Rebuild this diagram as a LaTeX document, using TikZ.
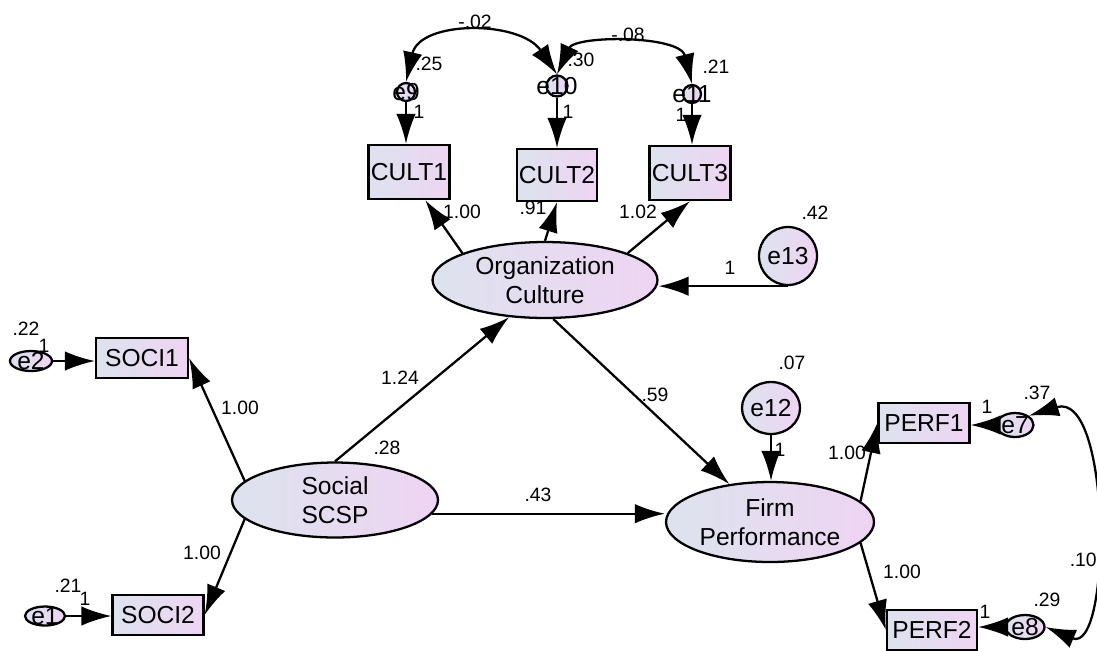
\documentclass[tikz,border=0pt]{standalone}
\usepackage{fontspec}
\setmainfont{Liberation Sans}
\usetikzlibrary{arrows.meta,shapes.geometric}

\begin{document}
\begin{tikzpicture}[x=0.02cm,y=-0.02cm,
    reg/.style={-{Latex[length=6mm,width=3.9mm]},line width=1.3pt},
    cov/.style={{Latex[length=6mm,width=3.9mm]}-{Latex[length=6mm,width=3.9mm]},line width=1.3pt},
    obs/.style={draw,line width=1.3pt,left color=semL,right color=semR,inner sep=0pt,font=\fontsize{14}{16}\selectfont},
    lat/.style={draw,ellipse,line width=1.3pt,left color=semL,right color=semR,inner sep=0pt,align=center,font=\fontsize{14}{16.5}\selectfont},
    err/.style={draw,ellipse,line width=1.3pt,left color=semL,right color=semR,inner sep=0pt,font=\fontsize{14}{16}\selectfont},
    serr/.style={draw,ellipse,line width=1.3pt,left color=semL,right color=semR,inner sep=0pt,label={[font=\fontsize{14}{16}\selectfont]center:#1}},
    lab/.style={font=\fontsize{11}{12}\selectfont,inner sep=0pt}]
    \definecolor{semL}{RGB}{221,227,238}
    \definecolor{semR}{RGB}{238,212,243}
    \useasboundingbox (0,0) rectangle (1097,650);
    %observed
    \node[obs,minimum width=1.62cm,minimum height=1.08cm] (cult1) at (409,172) {CULT1};
    \node[obs,minimum width=1.6cm,minimum height=1.04cm] (cult2) at (557,175) {CULT2};
    \node[obs,minimum width=1.62cm,minimum height=1.08cm] (cult3) at (690,173) {CULT3};
    \node[obs,minimum width=1.84cm,minimum height=0.8cm] (soci1) at (142,358) {SOCI1};
    \node[obs,minimum width=1.82cm,minimum height=0.8cm] (soci2) at (158,615) {SOCI2};
    \node[obs,minimum width=1.82cm,minimum height=0.8cm] (perf1) at (924,423) {PERF1};
    \node[obs,minimum width=1.8cm,minimum height=0.8cm] (perf2) at (932,630) {PERF2};
    %latent
    \node[lat,minimum width=4.5cm,minimum height=1.52cm] (org) at (545,280) {Organization\\Culture};
    \node[lat,minimum width=4.12cm,minimum height=1.5cm] (soc) at (335,500) {Social\\SCSP};
    \node[lat,minimum width=4.16cm,minimum height=1.6cm] (firm) at (770,522) {Firm\\Performance};
    %errors
    \node[err,minimum width=1.16cm,minimum height=1.16cm] (e13) at (788,256) {e13};
    \node[err,minimum width=1.04cm,minimum height=1.04cm] (e12) at (771,408) {e12};
    \node[serr=e9,minimum size=0.36cm] (e9) at (406,92) {};
    \node[serr=e10,minimum size=0.42cm] (e10) at (557,86) {};
    \node[serr=e11,minimum size=0.36cm] (e11) at (692,94) {};
    \node[serr=e2,minimum width=0.84cm,minimum height=0.4cm] (e2) at (31,361) {};
    \node[serr=e1,minimum width=0.8cm,minimum height=0.38cm] (e1) at (45,616) {};
    \node[serr=e7,minimum width=0.74cm,minimum height=0.48cm] (e7) at (1015,425) {};
    \node[serr=e8,minimum width=0.78cm,minimum height=0.48cm] (e8) at (1025,627) {};
    %lines
    \draw[reg] (e9.south) -- (e9.south |- cult1.north);
    \draw[reg] (e10.south) -- (e10.south |- cult2.north);
    \draw[reg] (e11.south) -- (e11.south |- cult3.north);
    \draw[reg] (e13.south) -- (org.east |- e13.south);
    \draw[reg] (e12.south) -- (e12.south |- firm.north);
    \draw[reg] (e2.east) -- (soci1.west |- e2.east);
    \draw[reg] (e1.east) -- (soci2.west |- e1.east);
    \draw[reg] (e7.west) -- (perf1.east |- e7.west);
    \draw[reg] (e8.west) -- (perf2.east |- e8.west);
    \draw[reg] (org.162) -- (cult1.-60);
    \draw[reg] (org.north) -- (cult2.south);
    \draw[reg] (org.18) -- (cult3.south);
    \draw[reg] (soc.north) -- (org.226);
    \draw[reg] (org.282) -- (firm.137);
    \draw[reg] (soc.-8) -- (soc.-8 -| firm.west);
    \draw[reg] (soc.168) -- (soci1.east);
    \draw[reg] (soc.192) -- (soci2.east);
    \draw[reg] (firm.13) -- (perf1.west);
    \draw[reg] (firm.-13) -- (perf2.west);
    %covariances
    \draw[cov] (e9.north) .. controls (420,20) and (520,20) .. (e10.north);
    \draw[cov] (e10.north) .. controls (575,35) and (680,35) .. (e11.north);
    \draw[cov] (e7.north east) .. controls (1112,390) and (1112,655) .. (e8.east);
    %estimates
    \node[lab] (k02) at (475,22) {-.02};
    \node[lab] (k08) at (628,35) {-.08};
    \node[lab] (v25) at (429,64) {.25};
    \node[lab] (v30) at (581,60) {.30};
    \node[lab] (v21c) at (716,67) {.21};
    \node[lab] (f9) at (419,112) {1};
    \node[lab] (f10) at (568,112) {1};
    \node[lab] (f11) at (681,115) {1};
    \node[lab] (l1) at (462,212) {1.00};
    \node[lab] (l2) at (533,208) {.91};
    \node[lab] (l3) at (638,212) {1.02};
    \node[lab] (v42) at (815,213) {.42};
    \node[lab] (f13) at (730,268) {1};
    \node[lab] (b124) at (400,378) {1.24};
    \node[lab] (v28) at (387,448) {.28};
    \node[lab] (b43) at (538,495) {.43};
    \node[lab] (b59) at (655,395) {.59};
    \node[lab] (v07) at (792,363) {.07};
    \node[lab] (f12) at (780,450) {1};
    \node[lab] (l4) at (847,453) {1.00};
    \node[lab] (l5) at (902,572) {1.00};
    \node[lab] (f7) at (987,407) {1};
    \node[lab] (v37) at (1037,393) {.37};
    \node[lab] (f8) at (985,612) {1};
    \node[lab] (v29) at (1047,600) {.29};
    \node[lab,anchor=east] (c10) at (1097,560) {.10};
    \node[lab] (v22) at (26,329) {.22};
    \node[lab] (f2) at (44,346) {1};
    \node[lab] (v21) at (68,586) {.21};
    \node[lab] (f1) at (85,599) {1};
    \node[lab] (l6) at (240,408) {1.00};
    \node[lab] (l7) at (202,553) {1.00};
\end{tikzpicture}
\end{document}
